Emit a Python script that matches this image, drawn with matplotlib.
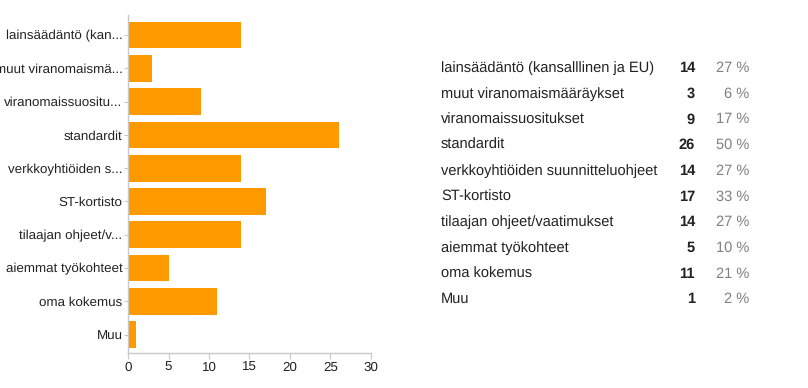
import matplotlib
matplotlib.use("Agg")
from matplotlib import pyplot as plt

# data
short_labels = ['lainsäädäntö (kan...', 'muut viranomaismä...', 'viranomaissuositu...',
                'standardit', 'verkkoyhtiöiden s...', 'ST-kortisto', 'tilaajan ohjeet/v...',
                'aiemmat työkohteet', 'oma kokemus', 'Muu']
full_labels = ['lainsäädäntö (kansalllinen ja EU)', 'muut viranomaismääräykset',
               'viranomaissuositukset', 'standardit', 'verkkoyhtiöiden suunnitteluohjeet',
               'ST-kortisto', 'tilaajan ohjeet/vaatimukset', 'aiemmat työkohteet',
               'oma kokemus', 'Muu']
counts = [14, 3, 9, 26, 14, 17, 14, 5, 11, 1]
percents = [27, 6, 17, 50, 27, 33, 27, 10, 21, 2]
xticks = [0, 5, 10, 15, 20, 25, 30]

plt.rcParams['font.family'] = ['Liberation Sans', 'DejaVu Sans']
plt.rcParams['text.hinting'] = 'no_hinting'

W, H = 808, 388
fig = plt.figure(figsize=(W / 100, H / 100), dpi=100)
ax = fig.add_axes([128 / W, 1 - 353 / H, (371 - 128) / W, (353 - 15) / H])

ypos = list(range(len(counts)))
ax.barh(ypos, counts, height=0.8, color='#ff9900')
ax.set_ylim(len(counts) - 0.45, -0.6)
ax.set_xlim(0, 30)
ax.set_xticks(xticks)
ax.set_yticks(ypos)
ax.set_yticklabels(short_labels)
for s in ['top', 'right']:
    ax.spines[s].set_visible(False)
for s in ['left', 'bottom']:
    ax.spines[s].set_color('#c8c8c8')
    ax.spines[s].set_linewidth(1)
ax.tick_params(axis='y', length=3, color='#c8c8c8', labelsize=9.6, labelcolor='#222222', pad=1)
ax.tick_params(axis='x', length=4, color='#c8c8c8', labelsize=9.6, labelcolor='#222222', pad=2)

# table on the right, rows on a common baseline
row0 = 72
step = 25.7
for i, (lab, c, p) in enumerate(zip(full_labels, counts, percents)):
    y = 1 - (row0 + i * step) / H
    fig.text(441 / W, y, lab, fontsize=10.5, color='#222222', va='baseline', ha='left')
    fig.text(695 / W, y, str(c), fontsize=10.5, color='#222222', va='baseline', ha='right',
             fontweight='bold')
    fig.text(749 / W, y, '%d %%' % p, fontsize=10.5, color='#808080', va='baseline', ha='right')

fig.savefig('out.png', dpi=100)
